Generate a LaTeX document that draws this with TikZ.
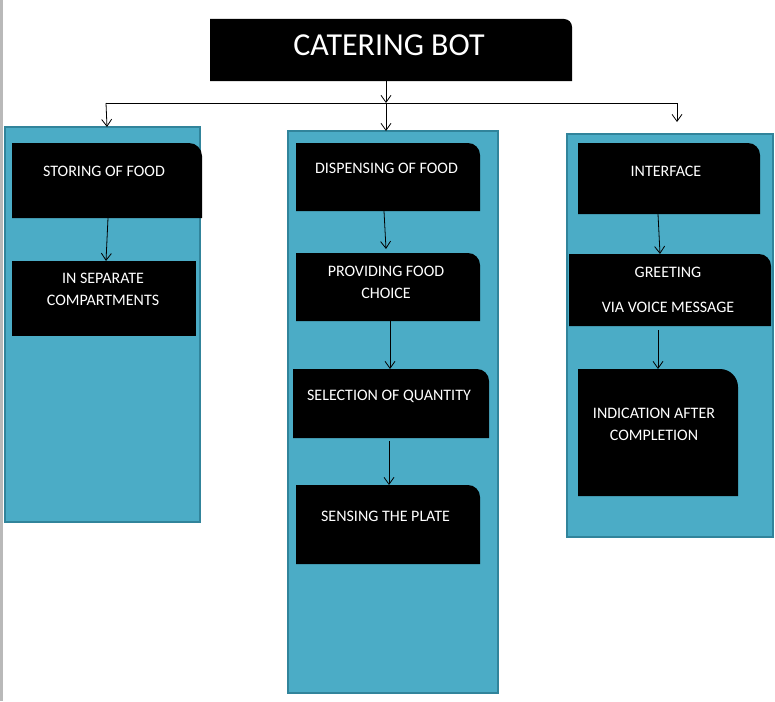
\documentclass[tikz,border=0pt]{standalone}
\usepackage{fontspec}
\setmainfont{Carlito}
\usetikzlibrary{arrows.meta}
\definecolor{panelfill}{HTML}{4BACC6}
\definecolor{paneldraw}{HTML}{31849B}
\tikzset{
  panel/.style={anchor=north west, inner sep=0pt, outer sep=0pt, fill=panelfill, draw=paneldraw, line width=2.5pt},
  rtr/.style={anchor=north west, inner sep=0pt, outer sep=0pt,
    path picture={\fill[black] (path picture bounding box.south west) -- (path picture bounding box.north west) -- ([xshift=-#1]path picture bounding box.north east) arc[start angle=90,end angle=0,radius=#1] -- (path picture bounding box.south east) -- cycle;}},
  sqbox/.style={anchor=north west, inner sep=0pt, outer sep=0pt, fill=black},
  txt/.style={text=white, anchor=north, inner sep=0pt, align=center, font=\fontsize{16}{22}\selectfont},
  arr/.style={-{Straight Barb[length=7pt,width=10pt]}, line width=0.8pt, black},
}
\begin{document}
\begin{tikzpicture}[x=1pt,y=-1pt]
\useasboundingbox (0,0) rectangle (775,701);
\fill[gray!55] (0,0) rectangle (3,701);
% panels
\node[panel, minimum width=195pt, minimum height=395pt] (lp) at (5,127) {};
\node[panel, minimum width=210pt, minimum height=562pt] (mp) at (288,131) {};
\node[panel, minimum width=206pt, minimum height=403pt] (rp) at (567,134) {};
% title
\node[rtr=8pt, minimum width=362pt, minimum height=62pt] (title) at (210,19) {};
\node[txt, font=\fontsize{32}{36}\selectfont] (titletxt) at (389,35) {CATERING BOT};
% left boxes
\node[rtr=13pt, minimum width=190pt, minimum height=75pt] (b1) at (12,143) {};
\node[sqbox, minimum width=184pt, minimum height=75pt] (b2) at (12,261) {};
\node[txt] (t1) at (104,166) {STORING OF FOOD};
\node[txt] (t2) at (103,273) {IN SEPARATE\\COMPARTMENTS};
% middle boxes
\node[rtr=12pt, minimum width=184pt, minimum height=68pt] (m1) at (296,143) {};
\node[rtr=12pt, minimum width=184pt, minimum height=68pt] (m2) at (296,253) {};
\node[rtr=12pt, minimum width=196pt, minimum height=69pt] (m3) at (293,369) {};
\node[rtr=12pt, minimum width=184pt, minimum height=79pt] (m4) at (296,485) {};
\node[txt] (t3) at (386.5,163) {DISPENSING OF FOOD};
\node[txt] (t4) at (386,266) {PROVIDING FOOD\\CHOICE};
\node[txt] (t5) at (389,390) {SELECTION OF QUANTITY};
\node[txt] (t6) at (385.5,511) {SENSING THE PLATE};
% right boxes
\node[rtr=12pt, minimum width=182pt, minimum height=71pt] (r1) at (578,143) {};
\node[rtr=12pt, minimum width=202pt, minimum height=72pt] (r2) at (569,254) {};
\node[rtr=18pt, minimum width=160pt, minimum height=127pt] (r3) at (578,369) {};
\node[txt] (t7) at (666,166) {INTERFACE};
\node[txt] (t8) at (668,267) {GREETING\\[13pt]VIA VOICE MESSAGE};
\node[txt] (t9) at (654,408) {INDICATION AFTER\\COMPLETION};
% connectors
\coordinate (jl) at (106,103);
\coordinate (jm) at (386,103);
\coordinate (jr) at (677,103);
\draw[arr] ([xshift=-5pt]title.south) -- (jm);
\draw[line width=0.8pt] (jl) -- (jr);
\draw[arr] (jl) -- ([xshift=1pt]jl |- lp.north);
\draw[arr] (jm) -- (jm |- mp.north);
\draw[arr] (jr) -- ([yshift=12pt]jr |- rp.north);
\draw[arr] ([xshift=1pt]b1.south) -- ([xshift=2pt]b2.north);
\draw[arr] ([xshift=-4pt]m1.south) -- ([xshift=-2pt,yshift=4pt]m2.north);
\draw[arr] ([xshift=2pt]m2.south) -- ([xshift=-1pt]m3.north);
\draw[arr] ([xshift=-2pt,yshift=-3pt]m3.south) -- ([xshift=1pt]m4.north);
\draw[arr] ([xshift=-11pt]r1.south) -- ([xshift=-10pt]r2.north);
\draw[arr] ([xshift=-12pt,yshift=-4pt]r2.south) -- (r3.north);
\end{tikzpicture}
\end{document}
